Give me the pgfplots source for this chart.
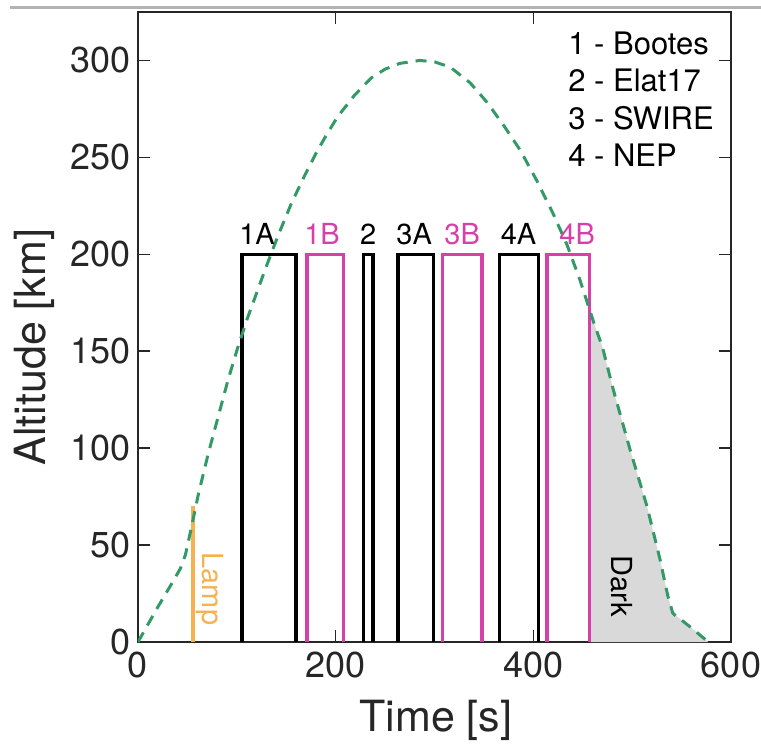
\documentclass[border=0pt]{standalone}
\usepackage{fontspec}
\setmainfont{TeX Gyre Heros}
\usepackage{pgfplots}
\pgfplotsset{compat=1.18}

\definecolor{traj}{RGB}{51,153,102}
\definecolor{obsmag}{RGB}{214,64,168}
\definecolor{lamporange}{RGB}{246,178,80}
\definecolor{darkfill}{RGB}{217,217,217}
\definecolor{axgray}{RGB}{38,38,38}

\newcommand{\lblfont}{\fontsize{14.5bp}{17bp}\selectfont}

\begin{document}
\begin{tikzpicture}
\useasboundingbox (-69bp,-53bp) rectangle (311.5bp,321bp);
% thin rule across the top
\draw[black!30, line width=1.5bp] (-64bp,317bp) -- (311.5bp,317bp);
\begin{axis}[
  at={(0,0)}, anchor=south west,
  width=296.5bp, height=315bp, scale only axis,
  xmin=0, xmax=600, ymin=0, ymax=325,
  xtick={0,200,400,600}, ytick={0,50,...,300},
  tick align=inside, xtick pos=both, ytick pos=both,
  major tick length=6bp,
  tick style={axgray, line width=0.8bp},
  axis line style={axgray, line width=0.8bp},
  /pgf/number format/assume math mode=true,
  ticklabel style={font=\fontsize{18bp}{20bp}\selectfont, text=axgray},
  xticklabel style={yshift=-1.5bp},
  xlabel={Time [s]}, ylabel={Altitude [km]},
  label style={font=\fontsize{21.5bp}{24bp}\selectfont, text=axgray},
  xlabel style={at={(axis description cs:0.5025,-0.124)}, anchor=center},
  ylabel style={at={(axis description cs:-0.174,0.468)}, anchor=center},
]
% dark period after the last observation
\addplot[draw=none, fill=darkfill] coordinates {
  (457,0) (457,173) (461,165) (470,152) (481,130) (498,99) (515,70)
  (528,43) (536,24) (541,15) (552,10.5) (563,6) (577,0)} \closedcycle;

% observation windows
\addplot[black,  line width=1.75bp] coordinates {(105,0) (105,200) (160,200) (160,0)};
\addplot[obsmag, line width=1.75bp] coordinates {(171,0) (171,200) (208,200) (208,0)};
\addplot[black,  line width=1.75bp] coordinates {(228,0) (228,200) (238,200) (238,0)};
\addplot[black,  line width=1.75bp] coordinates {(263,0) (263,200) (299,200) (299,0)};
\addplot[obsmag, line width=1.75bp] coordinates {(308,0) (308,200) (348,200) (348,0)};
\addplot[black,  line width=1.75bp] coordinates {(366,0) (366,200) (405,200) (405,0)};
\addplot[obsmag, line width=1.75bp] coordinates {(414,0) (414,200) (457,200) (457,0)};

% calibration lamp
\addplot[lamporange, line width=2bp] coordinates {(56,0) (56,70)};

% altitude profile
\addplot[traj, line width=1.5bp, dash pattern=on 5.5bp off 4bp] coordinates {
  (0,0) (10,9) (20,18) (34,30) (43,38) (48,45) (54,59) (61,76) (71,97) (81,116)
  (91,135) (101,152) (110,166) (120,180) (130,194) (142,210) (155,226)
  (168,240) (180,252) (190,261) (202,271) (219,282) (236,291) (250,295.5)
  (265,298.5) (285,300) (300,299.3) (316,296.5) (336,288.5) (353,278.5)
  (370,266.5) (387,253.5) (403,238.5) (420,221) (434,205) (447,187)
  (461,165) (470,152) (481,130) (498,99) (515,70) (528,43) (536,24)
  (541,15) (546,12.5) (552,10.5) (563,6) (577,0)};

% window labels
\node[anchor=base, font=\lblfont, text=black]  at (axis cs:120.4,205) {1A};
\node[anchor=base, font=\lblfont, text=obsmag] at (axis cs:186.2,205) {1B};
\node[anchor=base, font=\lblfont, text=black]  at (axis cs:232.8,205) {2};
\node[anchor=base, font=\lblfont, text=black]  at (axis cs:279.4,205) {3A};
\node[anchor=base, font=\lblfont, text=obsmag] at (axis cs:328,205) {3B};
\node[anchor=base, font=\lblfont, text=black]  at (axis cs:385,205) {4A};
\node[anchor=base, font=\lblfont, text=obsmag] at (axis cs:444.3,205) {4B};

\node[rotate=-90, font=\lblfont, text=lamporange] at (axis cs:72.4,27.3) {Lamp};
\node[rotate=-90, font=\lblfont, text=black] at (axis cs:489.6,28.9) {Dark};

% field key
\node[anchor=north west, align=left, inner sep=0pt,
      font=\fontsize{15.5bp}{18.7bp}\selectfont, text=black]
  at (axis cs:435,315) {1 - Bootes\\2 - Elat17\\3 - SWIRE\\4 - NEP};
\end{axis}
\end{tikzpicture}
\end{document}
